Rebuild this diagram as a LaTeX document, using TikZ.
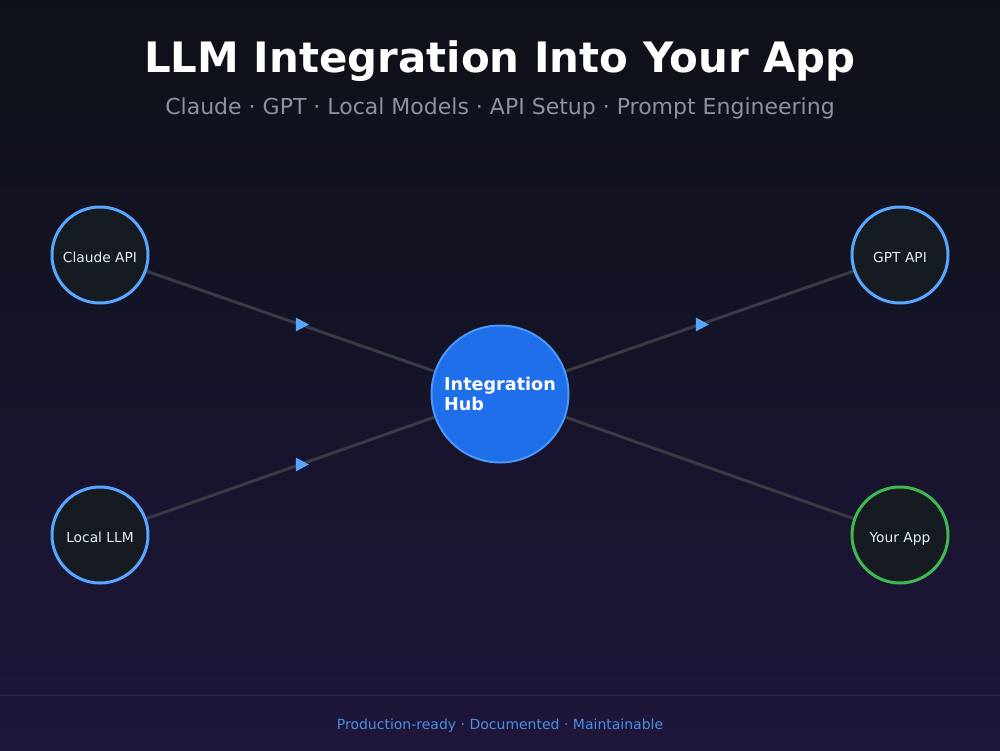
\documentclass[tikz,border=0pt]{standalone}
\usepackage{fontspec}
\setmainfont{DejaVu Sans}
\usetikzlibrary{shapes.geometric,backgrounds}
\definecolor{bgtop}{HTML}{0D1117}
\definecolor{bgbot}{HTML}{1F163B}
\definecolor{nodefill}{HTML}{161B22}
\definecolor{linkgray}{HTML}{363B44}
\definecolor{accent}{HTML}{58A6FF}
\definecolor{hubblue}{HTML}{1F6FEB}
\definecolor{okgreen}{HTML}{3FB950}
\definecolor{subgray}{HTML}{8B949E}
\definecolor{labelgray}{HTML}{E6EDF3}
\definecolor{footblue}{HTML}{4C8FE0}
\definecolor{rulegray}{HTML}{2E2A4C}
\begin{document}
\begin{tikzpicture}[x=1pt,y=-1pt,line join=round,line cap=round,
	endpoint/.style={circle,draw=accent,line width=3pt,fill=nodefill,minimum size=96pt,inner sep=0pt,text=labelgray,text height=14pt,text depth=0pt,font=\fontsize{13.8}{16}\selectfont},
	hub/.style={circle,draw=accent!75!hubblue,line width=2pt,fill=hubblue,minimum size=137pt,inner sep=0pt,text=white,align=left,font=\bfseries\fontsize{17.6}{20.5}\selectfont},
	link/.style={draw=linkgray,line width=3pt},
	tipmark/.style={isosceles triangle,isosceles triangle apex angle=56,fill=accent,inner sep=0pt,minimum height=13pt,minimum width=13pt,midway,sloped=false}]
	\def\W{1000} \def\H{750}
	\begin{pgfonlayer}{background}
	\shade[top color=bgtop,bottom color=bgbot] (0,0) rectangle (\W,\H);
	\end{pgfonlayer}
	\useasboundingbox (0,0) rectangle (\W,\H);
	\node[font=\bfseries\fontsize{41.9}{48}\selectfont,text=white,anchor=base] (title) at (500,72) {LLM Integration Into Your App};
	\node[font=\fontsize{22}{26}\selectfont,text=subgray,anchor=base] (subtitle) at (500,114) {Claude · GPT · Local Models · API Setup · Prompt Engineering};
	\node[hub] (hub) at (500,394) {Integration\\Hub};
	\node[endpoint] (claude) at (100,255) {Claude API};
	\node[endpoint] (gpt) at (900,255) {GPT API};
	\node[endpoint] (local) at (100,535) {Local LLM};
	\node[endpoint,draw=okgreen] (app) at (900,535) {Your App};
	\begin{pgfonlayer}{background}
	\draw[link] (claude.center) -- node[tipmark]{} (hub.center);
	\draw[link] (local.center) -- node[tipmark]{} (hub.center);
	\draw[link] (hub.center) -- node[tipmark]{} (gpt.center);
	\draw[link] (hub.center) -- (app.center);
	\end{pgfonlayer}
	\draw[rulegray,line width=1pt] (0,695) coordinate (rulel) -- (\W,695) coordinate (ruler);
	\node[font=\fontsize{14}{17}\selectfont,text=footblue,anchor=base] (footer) at (500,729) {Production-ready · Documented · Maintainable};
\end{tikzpicture}
\end{document}
